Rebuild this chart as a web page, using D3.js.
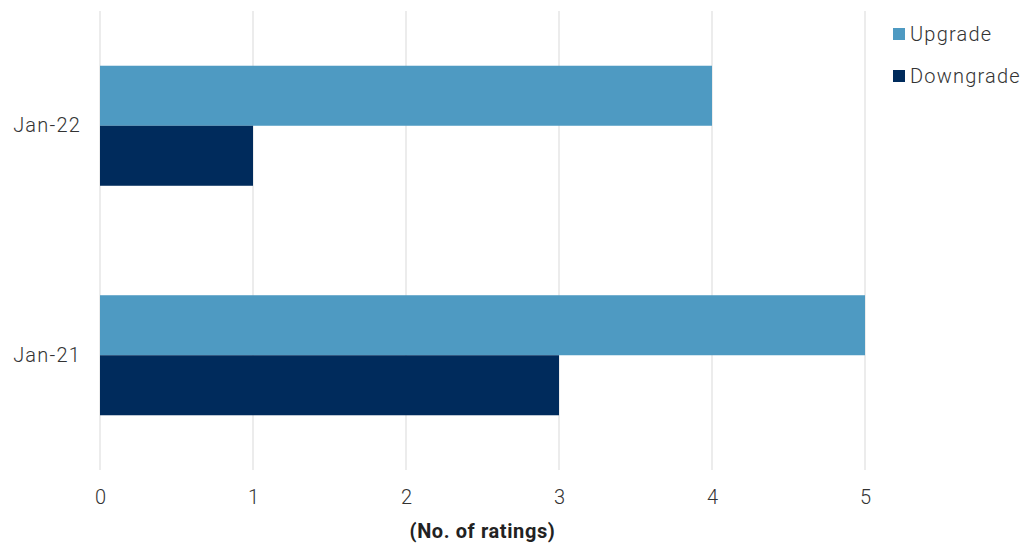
<!DOCTYPE html>
<html><head><meta charset="utf-8">
<script src="https://cdn.jsdelivr.net/npm/d3@7"></script>
<style>body{margin:0;background:#fff;} text{font-family:Roboto,"Noto Sans",sans-serif;}</style>
</head><body>
<svg id="c" width="1023" height="544"></svg>
<script>
const categories = ["Jan-22", "Jan-21"];
const seriesNames = ["Upgrade", "Downgrade"];
const upgrade = [4, 5];
const downgrade = [1, 3];
const xTicks = [0, 1, 2, 3, 4, 5];
const colors = ["#4e9ac2", "#002b5c"];

(function () {
const svg = d3.select("#c");
const mLeft = 100, mRight = 865, mTop = 11, mBottom = 470;
const x = d3.scaleLinear().domain([0, 5]).range([mLeft, mRight]);
const y0 = d3.scaleBand().domain(categories).range([mTop, mBottom]).paddingInner(0.477).paddingOuter(0.2385);
const y1 = d3.scaleBand().domain(seriesNames).range([0, y0.bandwidth()]);

// grid
svg.append("g").selectAll("line").data(xTicks).join("line")
  .attr("x1", d => x(d)).attr("x2", d => x(d))
  .attr("y1", mTop).attr("y2", mBottom)
  .attr("stroke", "#d9d9d9").attr("stroke-width", 1);

// bars
const data = categories.map((c, i) => ({cat: c, vals: [upgrade[i], downgrade[i]]}));
const g = svg.append("g").selectAll("g").data(data).join("g")
  .attr("transform", d => `translate(0,${y0(d.cat)})`);
g.selectAll("rect").data(d => d.vals.map((v, j) => ({s: seriesNames[j], v, j}))).join("rect")
  .attr("x", x(0)).attr("y", d => y1(d.s))
  .attr("width", d => x(d.v) - x(0)).attr("height", y1.bandwidth())
  .attr("fill", d => colors[d.j]);

// x axis labels
const xAxis = d3.axisBottom(x).tickValues(xTicks).tickSize(0).tickPadding(0).tickFormat(d3.format("d"));
const xa = svg.append("g").attr("transform", `translate(0,${mBottom})`).call(xAxis);
xa.select(".domain").remove();
xa.selectAll("text").attr("font-size", 20).attr("fill", "#333").attr("y", 34).attr("dy", 0)
  .style("font-family", "Roboto").style("font-weight", 300);

// y axis labels
const yAxis = d3.axisLeft(y0).tickSize(0).tickPadding(19);
const ya = svg.append("g").attr("transform", `translate(${mLeft},0)`).call(yAxis);
ya.select(".domain").remove();
ya.selectAll("text").attr("font-size", 20).attr("fill", "#333")
  .style("font-family", "Roboto").style("font-weight", 300).style("letter-spacing", "1.2px");

// axis title
svg.append("text").attr("x", (mLeft + mRight) / 2).attr("y", 538)
  .attr("text-anchor", "middle").attr("font-size", 20).attr("font-weight", "bold")
  .attr("fill", "#222").style("letter-spacing", "0.6px").text("(No. of ratings)");

// legend
const lg = svg.append("g").selectAll("g").data(seriesNames).join("g")
  .attr("transform", (d, i) => `translate(893,${28 + i * 42})`);
lg.append("rect").attr("width", 12).attr("height", 12).attr("fill", (d, i) => colors[i]);
lg.append("text").attr("x", 17).attr("y", 13).attr("font-size", 20).attr("fill", "#333")
  .style("font-weight", 300).style("letter-spacing", "1.2px").text(d => d);
})();
</script>
</body></html>
